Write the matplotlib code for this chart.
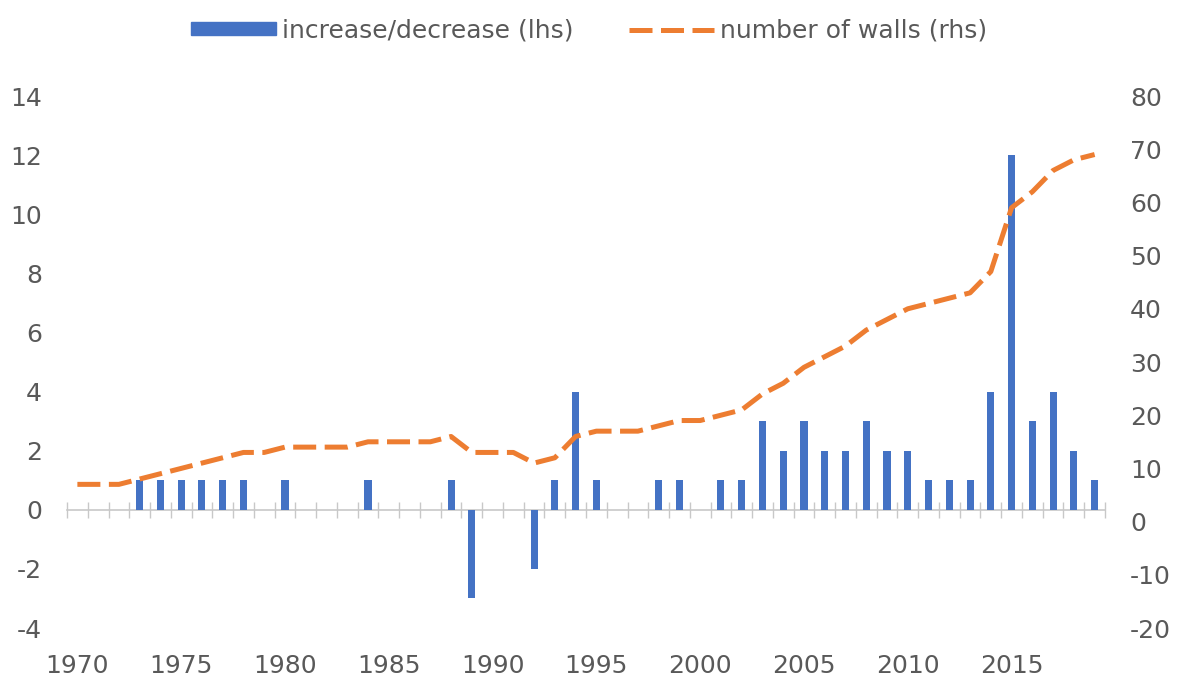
import matplotlib.pyplot as plt
from matplotlib.patches import Patch
from matplotlib.lines import Line2D

plt.rcParams['font.family'] = ['DejaVu Sans']
plt.rcParams['axes.unicode_minus'] = False

years = list(range(1970, 2020))
change = [0, 0, 0, 1, 1, 1, 1, 1, 1, 0,
          1, 0, 0, 0, 1, 0, 0, 0, 1, -3,
          0, 0, -2, 1, 4, 1, 0, 0, 1, 1,
          0, 1, 1, 3, 2, 3, 2, 2, 3, 2,
          2, 1, 1, 1, 4, 12, 3, 4, 2, 1]
walls = [7, 7, 7, 8, 9, 10, 11, 12, 13, 13,
         14, 14, 14, 14, 15, 15, 15, 15, 16, 13,
         13, 13, 11, 12, 16, 17, 17, 17, 18, 19,
         19, 20, 21, 24, 26, 29, 31, 33, 36, 38,
         40, 41, 42, 43, 47, 59, 62, 66, 68, 69]
xticks = list(range(1970, 2020, 5))
lhs_ticks = list(range(-4, 15, 2))
rhs_ticks = list(range(-20, 81, 10))

blue = '#4472C4'
orange = '#ED7D31'
grey_txt = '#595959'
axis_grey = '#C8C8C8'

fig = plt.figure(figsize=(11.78, 6.78), dpi=100)
ax = fig.add_axes([67 / 1178, 50 / 678, 1038 / 1178, 532 / 678])
ax2 = ax.twinx()

ax.bar(years, change, width=0.34, color=blue, zorder=3)
ax2.plot(years, walls, color=orange, lw=3.6, dashes=(4.6, 1.7),
         solid_capstyle='butt', zorder=4)

ax.set_xlim(1969.5, 2019.5)
ax.set_ylim(-4, 14)
ax2.set_ylim(-20, 80)
ax.set_yticks(lhs_ticks)
ax2.set_yticks(rhs_ticks)
ax.set_xticks(xticks)

for a in (ax, ax2):
    for s in a.spines.values():
        s.set_visible(False)

ax.tick_params(axis='y', length=0, pad=18, labelsize=18, labelcolor=grey_txt)
ax2.tick_params(axis='y', length=0, pad=18, labelsize=18, labelcolor=grey_txt)
ax.tick_params(axis='x', length=0, pad=19, labelsize=18, labelcolor=grey_txt)

# category axis line through zero with crossing tick marks between years
zero_axis = ax.secondary_xaxis(0, transform=ax.transData)
zero_axis.set_xticks([y - 0.5 for y in years] + [2019.5])
zero_axis.tick_params(axis='x', direction='inout', length=12, width=1,
                      color=axis_grey, labelbottom=False)
zero_axis.spines['bottom'].set_color(axis_grey)
zero_axis.spines['bottom'].set_linewidth(1.2)

handles = [Patch(color=blue),
           Line2D([], [], color=orange, lw=3.6, dashes=(4.6, 1.7))]
labels = ['increase/decrease (lhs)', 'number of walls (rhs)']
fig.legend(handles, labels, loc='center', bbox_to_anchor=(0.5, 0.955),
           ncol=2, frameon=False, fontsize=18, labelcolor=grey_txt,
           handlelength=3.4, handleheight=0.45, handletextpad=0.25,
           columnspacing=2.2)

fig.savefig('out.png', dpi=100)
